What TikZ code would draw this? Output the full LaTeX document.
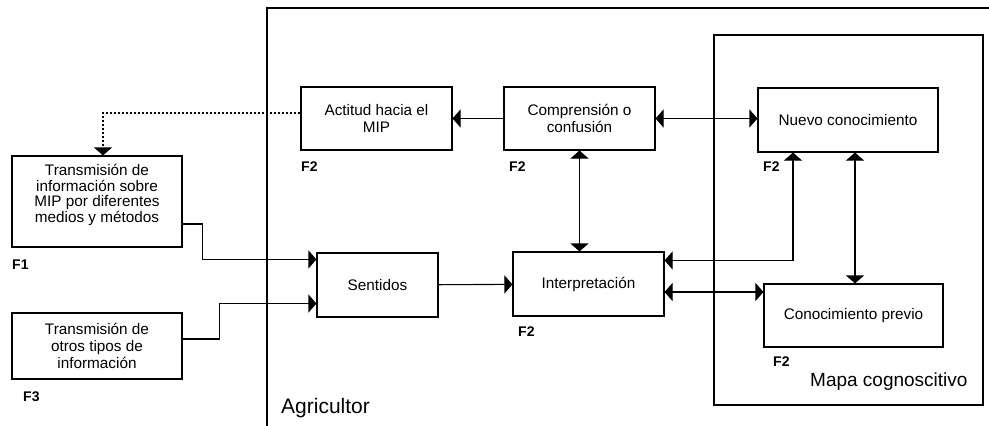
\documentclass[tikz,border=0pt]{standalone}
\usepackage{fontspec}
\setmainfont{Liberation Sans}
\usetikzlibrary{arrows.meta}
\newcommand{\boxfont}{\fontsize{15.3}{17}\selectfont}
\newcommand{\linew}{1.1pt}
\tikzset{
  caja/.style={draw, rectangle, line width=\linew, align=center, inner sep=2pt, font=\boxfont},
  fuente/.style={anchor=west, inner sep=0pt, font=\fontsize{14}{14}\selectfont\bfseries},
  punta/.tip={Triangle[length=8pt,width=18pt]},
  flecha/.style={line width=\linew, -punta},
  doble/.style={line width=\linew, punta-punta}
}

\begin{document}
\begin{tikzpicture}[x=1pt, y=-1pt]
        \useasboundingbox (0,0) rectangle (989,426);

        % marcos
        \draw[line width=\linew] (267,426) -- (267,8) -- (989,8);
        \draw[line width=\linew] (714,35) rectangle (983,405);

        \node (actitud) at (376.5,118.5) [caja, minimum width=151pt, minimum height=63pt] {Actitud hacia el\\MIP};
        \node (compr) at (579.5,118.5) [caja, minimum width=151pt, minimum height=63pt] {Comprensión o\\confusión};
        \node (nuevo) at (848,120) [caja, minimum width=180pt, minimum height=64pt] {Nuevo conocimiento};
        \node (trans1) at (97,201.5) [caja, minimum width=170pt, minimum height=91pt, text depth=16pt, font=\fontsize{15.3}{15.5}\selectfont] {Transmisión de\\información sobre\\MIP por diferentes\\medios y métodos};
        \node (trans2) at (97,346) [caja, minimum width=170pt, minimum height=66pt] {Transmisión de\\otros tipos de\\información};
        \node (sentidos) at (377.5,285) [caja, minimum width=121pt, minimum height=64pt] {Sentidos};
        \node (interp) at (588.5,284) [caja, minimum width=151pt, minimum height=64pt] {Interpretación};
        \node (conoc) at (853.5,315.5) [caja, minimum width=179pt, minimum height=63pt] {Conocimiento previo};

        \node (f2a) at (301,167) [fuente] {F2};
        \node (f2b) at (509,167) [fuente] {F2};
        \node (f2c) at (763,167) [fuente] {F2};
        \node (f1) at (12,265) [fuente] {F1};
        \node (f3) at (23,397) [fuente] {F3};
        \node (f2d) at (518,332) [fuente] {F2};
        \node (f2e) at (773,362) [fuente] {F2};

        \node (agricultor) at (281,408) [anchor=west, inner sep=0pt, font=\fontsize{21}{21}\selectfont] {Agricultor};
        \node (mapa) at (810,382) [anchor=west, inner sep=0pt, font=\fontsize{19}{19}\selectfont] {Mapa cognoscitivo};

        \draw[flecha] (compr) -- (actitud);
        \draw[flecha] (sentidos) -- (interp);
        \draw[doble] (compr.east) -- (compr.east -| nuevo.west);
        \draw[doble] (compr.south) -- (compr.south |- interp.north);
        \draw[doble] ([yshift=-9pt]interp.north east) -| ([xshift=-55pt]nuevo.south);
        \draw[doble] ([xshift=7pt]nuevo.south) -- ([xshift=7pt]nuevo.south |- conoc.north);
        \draw[doble] ([yshift=-8pt]interp.east) -- ([yshift=-8pt]interp.east -| conoc.west);
        \draw[flecha] ([yshift=-22.5pt]trans1.east) -- ++(20pt,0) |- ([yshift=-7pt]sentidos.north west);
        \draw[flecha] ([yshift=7pt]trans2.east) -- ++(37pt,0) |- ([yshift=14pt]sentidos.south west);
        \draw[flecha, dash pattern=on 2.5pt off 1.5pt] ([yshift=5.5pt]actitud.west) -| ([xshift=6pt]trans1.north);
        %\draw (0,0) node {};
\end{tikzpicture}
\end{document}
